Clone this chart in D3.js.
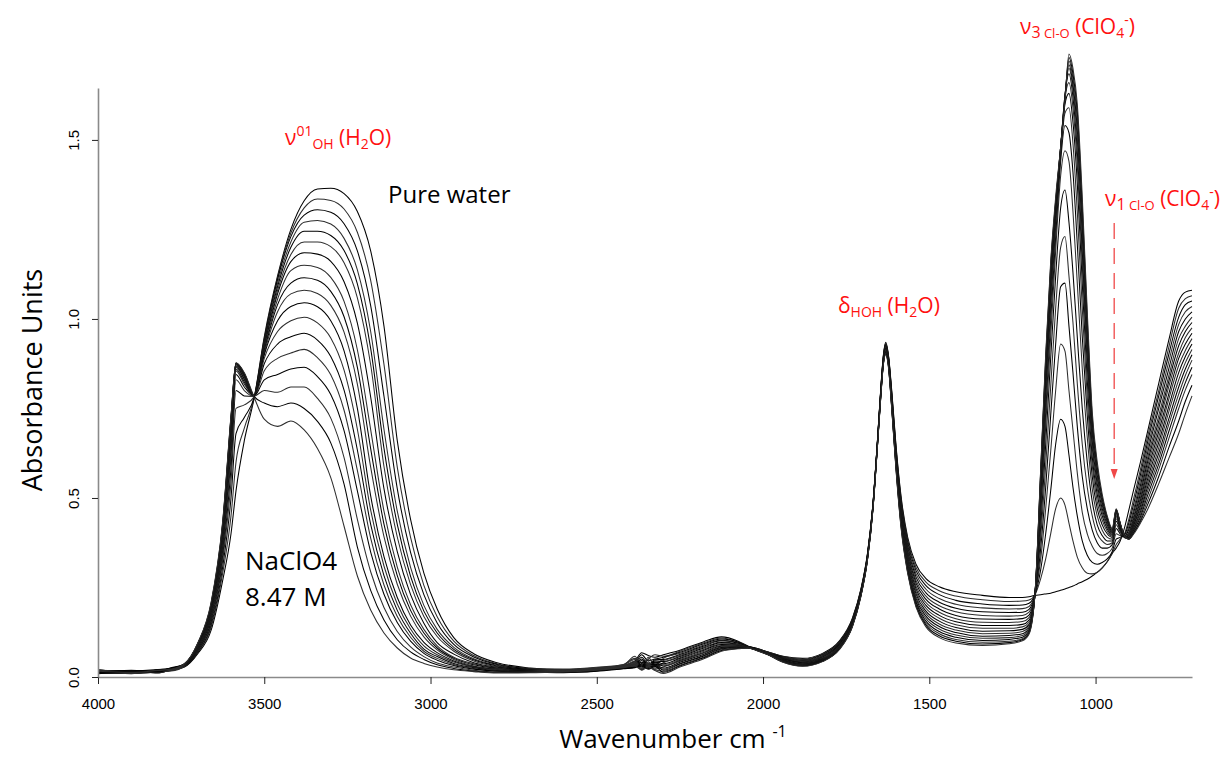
<!DOCTYPE html>
<html>
<head>
<meta charset="utf-8">
<script src="https://cdn.jsdelivr.net/npm/d3@7"></script>
<style>
  body { margin: 0; background: #fff; }
  svg { display: block; }
</style>
</head>
<body>
<svg id="chart" width="1226" height="758"></svg>
<script>
// Each row: [wavenumber (cm-1), absorbance of spectrum 0 .. 17]
// spectrum 0 = pure water, spectrum 17 = 8.47 M NaClO4

// O-H stretching region
const stretchBand = [
  [4000, .016,.012,.018,.010,.014,.020,.013,.011,.017,.019,.012,.015,.009,.018,.014,.021,.013,.016],
  [3900, .014,.010,.016,.012,.018,.013,.009,.015,.011,.017,.014,.010,.016,.012,.019,.011,.015,.013],
  [3820, .017,.013,.019,.015,.011,.016,.020,.014,.018,.012,.017,.015,.021,.013,.016,.019,.014,.018],
  [3780, .020,.018,.023,.017,.021,.019,.024,.018,.022,.020,.025,.019,.023,.021,.026,.020,.024,.022],
  [3740, .028,.029,.030,.030,.031,.031,.032,.032,.033,.033,.034,.034,.035,.035,.036,.036,.037,.037],
  [3700, .065,.068,.070,.072,.075,.077,.079,.081,.083,.085,.087,.088,.090,.091,.092,.093,.094,.095],
  [3660, .130,.138,.145,.151,.157,.163,.168,.173,.178,.182,.186,.190,.193,.196,.199,.202,.205,.208],
  [3625, .270,.290,.308,.325,.340,.353,.365,.376,.386,.394,.401,.407,.413,.418,.423,.427,.431,.435],
  [3600, .400,.450,.500,.545,.585,.615,.640,.660,.675,.688,.698,.705,.711,.716,.720,.724,.727,.730],
  [3585, .520,.600,.680,.750,.800,.830,.845,.855,.860,.865,.869,.872,.874,.875,.876,.877,.877,.877],
  [3560, .660,.695,.725,.760,.785,.800,.810,.818,.824,.829,.833,.837,.840,.842,.844,.846,.848,.850],
  [3530, .780,.781,.782,.783,.784,.784,.785,.785,.785,.785,.785,.785,.785,.785,.785,.785,.783,.780],
  [3500, .950,.945,.940,.935,.930,.925,.920,.915,.910,.905,.900,.890,.875,.855,.830,.800,.765,.720],
  [3460, 1.12,1.115,1.11,1.10,1.09,1.08,1.07,1.055,1.04,1.02,.995,.965,.930,.890,.845,.795,.755,.700],
  [3420, 1.25,1.24,1.23,1.215,1.20,1.18,1.16,1.135,1.10,1.07,1.035,.995,.950,.905,.860,.810,.765,.715],
  [3380, 1.33,1.31,1.29,1.27,1.245,1.215,1.185,1.15,1.115,1.08,1.045,1.005,.960,.915,.865,.810,.750,.690],
  [3340, 1.363,1.335,1.305,1.275,1.245,1.215,1.181,1.144,1.108,1.071,1.034,.989,.941,.892,.839,.778,.714,.638],
  [3300, 1.365,1.331,1.298,1.265,1.233,1.202,1.161,1.116,1.077,1.038,.995,.947,.895,.844,.789,.723,.654,.557],
  [3260, 1.35,1.307,1.266,1.225,1.191,1.157,1.104,1.049,1.006,.963,.911,.857,.801,.745,.688,.613,.539,.421],
  [3220, 1.30,1.242,1.190,1.137,1.098,1.059,.988,.914,.865,.818,.750,.692,.634,.577,.520,.440,.363,.282],
  [3180, 1.19,1.108,1.037,.965,.918,.872,.782,.691,.638,.586,.506,.466,.426,.388,.349,.294,.242,.187],
  [3140, .980,.873,.784,.692,.639,.588,.526,.463,.427,.392,.336,.310,.283,.257,.231,.194,.159,.123],
  [3100, .660,.586,.526,.463,.426,.391,.350,.307,.283,.259,.222,.204,.186,.169,.152,.127,.104,.081],
  [3060, .440,.390,.348,.306,.281,.258,.230,.202,.186,.170,.145,.134,.122,.111,.100,.084,.070,.053],
  [3020, .290,.256,.230,.200,.184,.169,.150,.133,.123,.112,.097,.087,.078,.072,.066,.057,.049,.038],
  [2980, .190,.168,.151,.133,.123,.113,.096,.087,.081,.076,.068,.062,.057,.052,.047,.039,.034,.028],
  [2930, .110,.100,.091,.083,.077,.072,.064,.055,.052,.049,.045,.042,.038,.035,.032,.028,.024,.020],
  [2870, .065,.060,.056,.051,.048,.045,.040,.037,.034,.031,.029,.028,.026,.024,.022,.019,.017,.015],
  [2800, .040,.037,.035,.033,.031,.029,.027,.025,.024,.023,.021,.020,.018,.017,.016,.014,.013,.011]
];

// CO2 / combination band region
const middleRange = [
  [2700, .025,.024,.023,.022,.021,.020,.020,.019,.018,.018,.017,.016,.016,.015,.014,.014,.013,.012],
  [2600, .020,.021,.019,.022,.018,.020,.017,.019,.016,.018,.015,.017,.014,.016,.013,.015,.012,.014],
  [2500, .024,.026,.023,.027,.022,.025,.021,.024,.020,.023,.019,.022,.018,.021,.017,.020,.016,.019],
  [2420, .032,.035,.030,.034,.029,.033,.028,.031,.027,.030,.026,.029,.025,.028,.024,.027,.023,.026],
  [2385, .045,.052,.040,.058,.036,.049,.034,.044,.031,.041,.030,.038,.028,.035,.027,.033,.026,.030],
  [2365, .068,.030,.062,.025,.055,.038,.050,.020,.046,.033,.041,.028,.037,.024,.034,.021,.031,.019],
  [2345, .060,.050,.045,.055,.035,.048,.032,.042,.030,.038,.028,.035,.026,.032,.024,.030,.022,.028],
  [2325, .055,.062,.050,.030,.048,.040,.045,.025,.042,.034,.039,.022,.036,.030,.033,.020,.030,.018],
  [2300, .062,.058,.055,.052,.049,.046,.043,.040,.037,.034,.031,.028,.025,.022,.019,.016,.013,.010],
  [2250, .075,.072,.069,.066,.063,.060,.057,.054,.052,.049,.046,.044,.041,.038,.036,.033,.031,.028],
  [2180, .098,.095,.092,.089,.086,.083,.080,.077,.074,.071,.068,.066,.063,.060,.058,.055,.053,.050],
  [2125, .112,.109,.106,.103,.101,.098,.096,.093,.091,.088,.086,.084,.082,.080,.078,.076,.074,.072],
  [2075, .100,.098,.097,.095,.094,.092,.091,.090,.088,.087,.086,.085,.084,.083,.082,.081,.080,.079],
  [2045, .086,.086,.085,.085,.085,.084,.084,.084,.083,.083,.083,.083,.082,.082,.082,.082,.081,.081]
];

// H-O-H bending region
const bendBand = [
  [2020, .080,.080,.079,.079,.079,.078,.078,.078,.077,.077,.077,.076,.076,.076,.075,.075,.075,.074],
  [1985, .070,.070,.069,.069,.068,.068,.067,.067,.066,.066,.065,.065,.064,.064,.063,.063,.062,.062],
  [1940, .058,.057,.056,.055,.054,.053,.052,.051,.050,.049,.048,.047,.046,.045,.044,.043,.042,.041],
  [1881, .052,.050,.048,.047,.045,.044,.042,.041,.040,.038,.037,.036,.035,.034,.033,.032,.031,.030],
  [1821, .066,.064,.062,.060,.058,.057,.055,.054,.052,.051,.050,.049,.048,.047,.046,.045,.044,.043],
  [1771, .100,.098,.096,.094,.092,.090,.089,.087,.086,.085,.083,.082,.081,.080,.079,.078,.077,.076],
  [1731, .165,.163,.161,.159,.157,.155,.154,.152,.151,.150,.148,.147,.146,.145,.144,.143,.142,.141],
  [1706, .245,.243,.241,.240,.238,.237,.235,.234,.233,.232,.231,.230,.229,.228,.227,.226,.225,.224],
  [1686, .345,.343,.342,.340,.339,.338,.337,.336,.335,.334,.333,.332,.331,.330,.329,.328,.327,.326],
  [1669, .490,.489,.488,.487,.486,.485,.484,.483,.482,.481,.480,.479,.478,.477,.476,.475,.474,.473],
  [1656, .660,.659,.658,.657,.656,.655,.654,.653,.652,.651,.650,.649,.648,.647,.646,.645,.644,.643],
  [1646, .805,.803,.801,.800,.798,.797,.795,.794,.792,.791,.790,.788,.787,.786,.785,.783,.782,.780],
  [1638, .900,.898,.896,.894,.892,.890,.888,.887,.885,.884,.882,.881,.880,.878,.877,.876,.875,.874],
  [1631, .935,.932,.930,.928,.926,.924,.922,.920,.918,.916,.914,.912,.910,.908,.906,.904,.902,.900],
  [1623, .900,.898,.896,.894,.892,.890,.888,.886,.884,.882,.880,.878,.876,.874,.872,.870,.868,.866],
  [1613, .800,.796,.792,.788,.785,.781,.778,.775,.772,.769,.766,.763,.760,.758,.755,.753,.751,.749],
  [1600, .645,.640,.635,.630,.625,.621,.617,.613,.609,.605,.601,.597,.593,.590,.587,.584,.580,.577],
  [1585, .505,.499,.493,.487,.481,.475,.469,.464,.459,.454,.449,.444,.439,.434,.429,.425,.421,.417],
  [1565, .390,.383,.376,.369,.362,.355,.348,.342,.336,.330,.324,.318,.312,.306,.300,.295,.292,.289],
  [1540, .315,.306,.297,.288,.279,.270,.262,.254,.246,.239,.232,.225,.219,.213,.208,.203,.199,.195],
  [1510, .275,.265,.255,.245,.235,.226,.217,.208,.200,.192,.184,.177,.170,.163,.156,.150,.145,.140],
  [1470, .252,.241,.230,.219,.209,.199,.190,.181,.172,.164,.156,.148,.141,.134,.127,.121,.115,.110],
  [1420, .238,.226,.214,.203,.192,.182,.172,.163,.154,.146,.138,.131,.124,.117,.111,.105,.100,.095],
  [1340, .228,.216,.204,.193,.182,.172,.162,.153,.144,.136,.128,.121,.114,.108,.102,.097,.092,.088],
  [1260, .222,.211,.200,.190,.180,.170,.161,.152,.144,.136,.129,.122,.116,.110,.105,.100,.096,.093]
];

// Perchlorate Cl-O stretching and water libration region
const perchlorateBand = [
  [1220, .222,.212,.201,.191,.181,.172,.163,.155,.147,.140,.133,.127,.121,.116,.111,.107,.104,.101],
  [1200, .224,.215,.206,.197,.189,.181,.173,.166,.159,.153,.147,.142,.137,.133,.129,.126,.123,.120],
  [1182, .228,.230,.231,.232,.232,.233,.233,.233,.234,.234,.234,.234,.235,.235,.235,.235,.235,.235],
  [1165, .230,.275,.300,.330,.360,.390,.420,.450,.470,.490,.510,.520,.535,.550,.560,.570,.575,.580],
  [1150, .232,.330,.400,.470,.530,.590,.650,.700,.740,.770,.800,.820,.840,.860,.870,.880,.890,.900],
  [1135, .234,.400,.520,.630,.730,.810,.890,.950,1.00,1.03,1.06,1.08,1.10,1.12,1.13,1.14,1.15,1.16],
  [1120, .238,.470,.650,.800,.930,1.03,1.12,1.19,1.23,1.26,1.28,1.29,1.30,1.31,1.32,1.325,1.33,1.34],
  [1105, .242,.500,.720,.930,1.09,1.20,1.31,1.40,1.44,1.46,1.47,1.475,1.475,1.48,1.48,1.48,1.48,1.48],
  [1092, .246,.480,.700,.910,1.10,1.23,1.36,1.47,1.54,1.575,1.60,1.615,1.625,1.625,1.62,1.62,1.615,1.61],
  [1080, .250,.430,.620,.800,.980,1.12,1.27,1.44,1.52,1.59,1.63,1.66,1.685,1.70,1.71,1.72,1.73,1.74],
  [1068, .254,.380,.530,.690,.850,.990,1.13,1.30,1.41,1.49,1.55,1.59,1.62,1.64,1.655,1.67,1.685,1.70],
  [1055, .260,.335,.450,.570,.700,.820,.950,1.10,1.21,1.30,1.38,1.43,1.47,1.50,1.53,1.555,1.58,1.60],
  [1040, .266,.305,.380,.460,.560,.650,.750,.860,.950,1.03,1.10,1.15,1.19,1.23,1.26,1.29,1.315,1.34],
  [1025, .273,.290,.340,.400,.470,.530,.600,.670,.730,.780,.830,.870,.900,.930,.955,.980,1.00,1.02],
  [1010, .282,.288,.320,.365,.410,.450,.490,.525,.560,.590,.615,.640,.660,.680,.695,.710,.725,.740],
  [995,  .292,.293,.315,.345,.375,.400,.425,.450,.470,.490,.510,.525,.540,.553,.565,.577,.588,.600],
  [980,  .305,.305,.320,.340,.360,.380,.395,.410,.425,.438,.450,.460,.470,.480,.488,.495,.502,.510],
  [965,  .322,.322,.330,.345,.360,.370,.380,.390,.400,.407,.414,.420,.426,.432,.437,.442,.446,.450],
  [950,  .345,.345,.350,.360,.370,.375,.380,.385,.390,.393,.396,.399,.402,.405,.407,.410,.412,.415],
  [938,  .360,.370,.385,.400,.415,.425,.435,.442,.448,.453,.457,.460,.462,.464,.466,.467,.468,.470],
  [926,  .380,.385,.390,.395,.400,.405,.410,.413,.416,.419,.421,.423,.425,.427,.428,.429,.430,.430],
  [912,  .420,.402,.398,.395,.393,.391,.390,.390,.389,.389,.389,.390,.390,.390,.390,.391,.391,.392],
  [900,  .466,.440,.430,.420,.412,.405,.400,.397,.394,.392,.390,.389,.388,.387,.386,.386,.385,.385],
  [885,  .525,.500,.485,.470,.460,.450,.443,.437,.432,.427,.423,.419,.415,.412,.409,.406,.403,.400],
  [865,  .600,.580,.565,.550,.535,.523,.512,.502,.493,.485,.477,.469,.461,.454,.447,.440,.435,.430],
  [845,  .680,.665,.650,.635,.620,.607,.595,.583,.571,.560,.548,.537,.526,.515,.503,.490,.478,.465],
  [810,  .820,.800,.785,.765,.750,.730,.715,.700,.685,.670,.655,.640,.625,.610,.595,.580,.560,.540],
  [780,  .940,.920,.900,.880,.860,.840,.825,.810,.790,.775,.755,.740,.720,.705,.685,.665,.640,.610],
  [750,  1.05,1.03,1.005,.985,.965,.945,.925,.905,.890,.870,.850,.830,.810,.790,.770,.750,.715,.680],
  [730,  1.075,1.057,1.04,1.02,1.00,.980,.965,.948,.930,.912,.895,.878,.860,.842,.822,.802,.770,.735],
  [710,  1.08,1.065,1.05,1.035,1.02,1.005,.990,.975,.960,.945,.930,.915,.900,.885,.865,.845,.815,.785]
];

const xTicks = [4000, 3500, 3000, 2500, 2000, 1500, 1000];
const yTicks = [0, 0.5, 1.0, 1.5];

const svg = d3.select("#chart");
const labelFont = "'Open Sans', 'Noto Sans', sans-serif";
const tickFont = "'Liberation Sans', Arial, sans-serif";
const red = "#ff1010";

const x = d3.scaleLinear().domain([4000, 710]).range([98, 1192]);
const y = d3.scaleLinear().domain([0, 1.645]).range([677, 88]);

// Assemble one series per spectrum from the row tables
const rows = [...stretchBand, ...middleRange, ...bendBand, ...perchlorateBand];
const spectra = d3.range(rows[0].length - 1).map(i => rows.map(r => [r[0], r[i + 1]]));

const line = d3.line()
  .x(d => x(d[0]))
  .y(d => y(d[1]))
  .curve(d3.curveMonotoneX);

svg.append("g")
  .selectAll("path")
  .data(spectra)
  .join("path")
  .attr("d", line)
  .attr("fill", "none")
  .attr("stroke", (d, i) => (i % 2 ? "#2e2e2e" : "#000"))
  .attr("stroke-width", 1.05);

// X axis
const gx = svg.append("g")
  .attr("transform", `translate(0,${y(0)})`)
  .call(d3.axisBottom(x).tickValues(xTicks).tickFormat(d3.format("d"))
    .tickSize(7).tickSizeOuter(0).tickPadding(14));
gx.select(".domain").attr("stroke", "#8a8a8a").attr("stroke-width", 1.6);
gx.selectAll(".tick line").attr("stroke", "#222");
gx.selectAll(".tick text")
  .attr("font-family", tickFont).attr("font-size", 15).attr("fill", "#000");

// Y axis with rotated tick labels
const gy = svg.append("g")
  .attr("transform", `translate(${x(4000)},0)`)
  .call(d3.axisLeft(y).tickValues(yTicks).tickFormat(d3.format(".1f"))
    .tickSize(6).tickSizeOuter(0));
gy.select(".domain").attr("stroke", "#8a8a8a").attr("stroke-width", 1.6);
gy.selectAll(".tick line").attr("stroke", "#222");
gy.selectAll(".tick text")
  .attr("x", null).attr("dy", null)
  .attr("text-anchor", "middle")
  .attr("transform", "translate(-19,0) rotate(-90)")
  .attr("font-family", tickFont).attr("font-size", 15).attr("fill", "#000");

// Text with sub/superscript pieces
function richText(px, py, parts, size, color, anchor) {
  const t = svg.append("text")
    .attr("x", px).attr("y", py)
    .attr("font-family", labelFont)
    .attr("font-size", size)
    .attr("fill", color)
    .attr("text-anchor", anchor || "start");
  let shift = 0;
  parts.forEach(p => {
    const s = t.append("tspan").text(p.t);
    let target = 0;
    if (p.sup) { target = -size * 0.42; s.attr("font-size", p.size || size * 0.65); }
    else if (p.sub) { target = size * 0.18; s.attr("font-size", p.size || size * 0.65); }
    if (target !== shift) s.attr("dy", target - shift);
    if (p.dx) s.attr("dx", p.dx);
    shift = target;
  });
  return t;
}

// Axis titles
svg.append("text")
  .attr("transform", "translate(42,380) rotate(-90)")
  .attr("text-anchor", "middle")
  .attr("font-family", labelFont).attr("font-size", 27).attr("fill", "#000")
  .text("Absorbance Units");

richText(673, 748, [{ t: "Wavenumber cm " }, { t: "-1", sup: true, size: 16 }], 26, "#000", "middle");

// Band annotations
richText(285, 145, [
  { t: "ν" }, { t: "01", sup: true, size: 14 }, { t: "OH", sub: true, size: 14 },
  { t: " (H" }, { t: "2", sub: true, size: 14 }, { t: "O)" }
], 21, red);

richText(838, 313, [
  { t: "δ" }, { t: "HOH", sub: true, size: 14 },
  { t: " (H" }, { t: "2", sub: true, size: 14 }, { t: "O)" }
], 21, red);

richText(1020, 34, [
  { t: "ν" }, { t: "3", sub: true, size: 16 }, { t: " Cl-O", sub: true, size: 13 },
  { t: " (ClO" }, { t: "4", sub: true, size: 14 }, { t: "-", sup: true, size: 14 }, { t: ")" }
], 21, red);

richText(1105, 206, [
  { t: "ν" }, { t: "1", sub: true, size: 16 }, { t: " Cl-O", sub: true, size: 13 },
  { t: " (ClO" }, { t: "4", sub: true, size: 14 }, { t: "-", sup: true, size: 14 }, { t: ")" }
], 21, red);

// Dashed arrow pointing at the v1 band
const arrowX = x(944);
svg.append("line")
  .attr("x1", arrowX).attr("x2", arrowX)
  .attr("y1", 223).attr("y2", 470)
  .attr("stroke", "#f04848").attr("stroke-width", 1.3)
  .attr("stroke-dasharray", "16,9");
svg.append("path")
  .attr("d", `M${arrowX - 3.5},469 L${arrowX + 3.5},469 L${arrowX},479 Z`)
  .attr("fill", "#f04848");

// Sample labels
svg.append("text")
  .attr("x", 388).attr("y", 203)
  .attr("font-family", labelFont).attr("font-size", 24).attr("fill", "#000")
  .text("Pure water");

svg.append("text")
  .attr("x", 245).attr("y", 570)
  .attr("font-family", labelFont).attr("font-size", 26).attr("fill", "#000")
  .text("NaClO4");
svg.append("text")
  .attr("x", 245).attr("y", 606)
  .attr("font-family", labelFont).attr("font-size", 26).attr("fill", "#000")
  .text("8.47 M");
</script>
</body>
</html>
